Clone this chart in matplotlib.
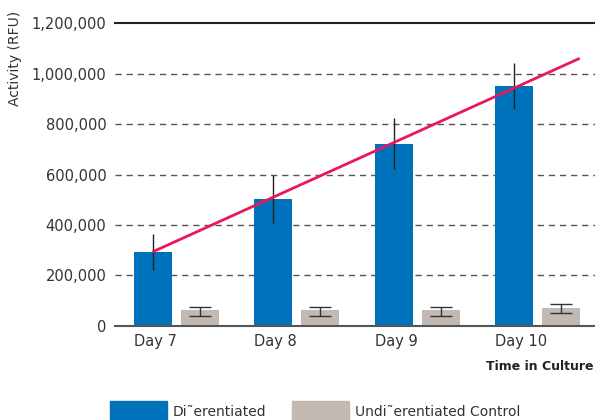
import matplotlib
matplotlib.use('Agg')
import matplotlib.pyplot as plt
from matplotlib.patches import Rectangle
import numpy as np

days = ['Day 7', 'Day 8', 'Day 9', 'Day 10']
diff_vals = [293000, 502000, 723000, 951000]
diff_err = [70000, 95000, 100000, 90000]
ctrl_vals = [62000, 62000, 62000, 70000]
ctrl_lo = [37000, 37000, 37000, 49000]
ctrl_hi = [73000, 73000, 75000, 86000]
trend_x = [0, 3.545]
trend_y = [293000, 1061000]
yticks = [0, 200000, 400000, 600000, 800000, 1000000, 1200000]
legend_labels = ['Di\u02dcerentiated', 'Undi\u02dcerentiated Control']

blue = '#0072bc'
grey = '#c2b9b3'
red = '#e8185a'
txt = '#333333'

plt.rcParams['font.family'] = ['DejaVu Sans']
fig = plt.figure(figsize=(5.95, 4.2), dpi=100)
ax = fig.add_axes([0.193, 0.2245, 0.807, 0.72])

x = np.arange(len(days))
width = 0.315
off = 0.39

ax.bar(x, diff_vals, width=width, color=blue, zorder=3)
ax.errorbar(x, diff_vals, yerr=diff_err, fmt='none', ecolor='#222222',
            elinewidth=1, capsize=0, zorder=4)
ax.bar(x + off, ctrl_vals, width=width, color=grey, zorder=3)
mid = [(lo + hi) / 2 for lo, hi in zip(ctrl_lo, ctrl_hi)]
half = [(hi - lo) / 2 for lo, hi in zip(ctrl_lo, ctrl_hi)]
ax.errorbar(x + off, mid, yerr=half, fmt='none', ecolor='#333333',
            elinewidth=1, capsize=8, capthick=1, zorder=4)

ax.plot(trend_x, trend_y, color=red, lw=2, zorder=5, solid_capstyle='butt')

# gridlines
for v in yticks[1:-1]:
    ax.axhline(v, color='#555555', lw=1, ls=(0, (4.5, 3.5)), zorder=1)
ax.axhline(yticks[-1], color='#222222', lw=1.5, zorder=1, clip_on=False)
ax.axhline(0, color='#555555', lw=1.5, zorder=5, clip_on=False)

ax.set_ylim(0, 1200000)
ax.set_xlim(-0.313, 3.672)
ax.set_yticks(yticks)
ax.set_yticklabels(['{:,}'.format(v) for v in yticks])
ax.set_xticks(x - width / 2)
ax.set_xticklabels(days, ha='left')
ax.tick_params(length=0, labelsize=10.5, labelcolor=txt)
ax.tick_params(axis='y', pad=6)
ax.tick_params(axis='x', pad=6)
for s in ax.spines.values():
    s.set_visible(False)

fig.text(0.025, 0.975, 'Activity (RFU)', rotation=90, va='top', ha='center',
         fontsize=10, color=txt)
fig.text(0.998, 0.127, 'Time in Culture', ha='right', va='center',
         fontsize=9, color='#222222', fontweight='bold')

# legend
fig.add_artist(Rectangle((110 / 595, 0), 57 / 595, 19 / 420,
                         transform=fig.transFigure, color=blue))
fig.add_artist(Rectangle((292 / 595, 0), 57 / 595, 19 / 420,
                         transform=fig.transFigure, color=grey))
fig.text(173 / 595, 0.003, legend_labels[0], fontsize=10, color=txt, va='bottom')
fig.text(355 / 595, 0.003, legend_labels[1], fontsize=10, color=txt, va='bottom')

fig.savefig('out.png', dpi=100)
